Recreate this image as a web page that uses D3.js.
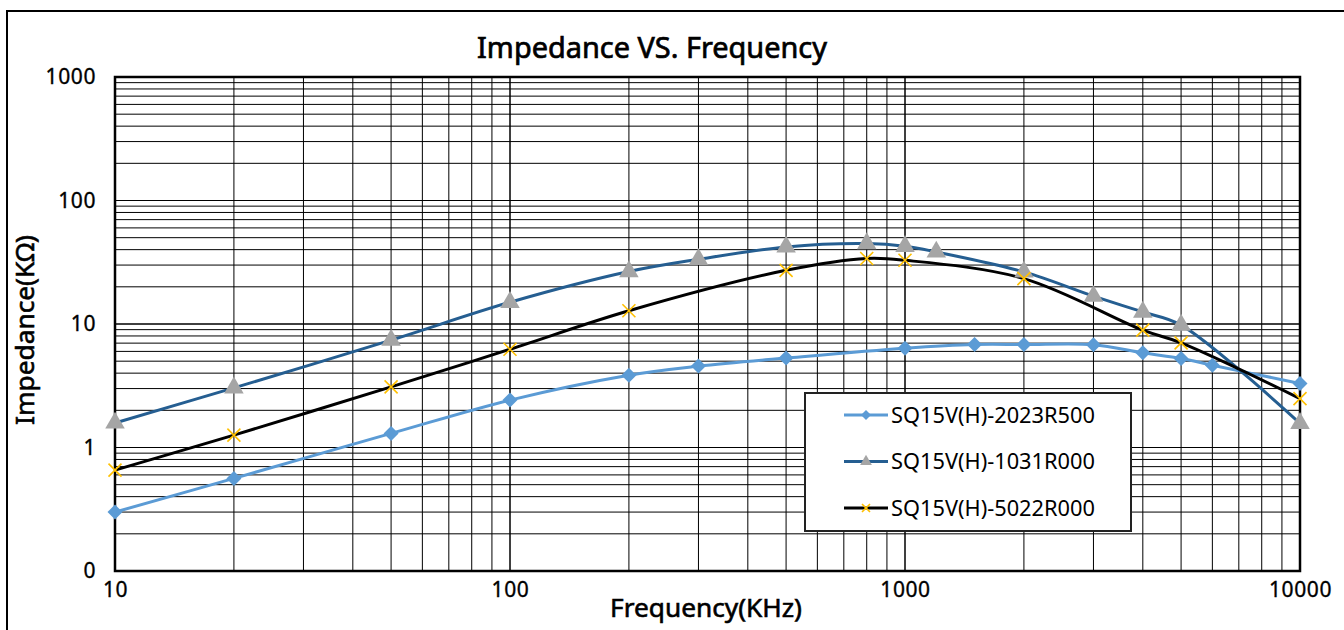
<!DOCTYPE html>
<html>
<head>
<meta charset="utf-8">
<script src="https://cdn.jsdelivr.net/npm/d3@7"></script>
<style>
  body { margin: 0; background: #fff; }
  text { font-family: "Noto Sans", sans-serif; fill: #000; }
</style>
</head>
<body>
<svg width="1344" height="630"></svg>
<script>
// data (frequency in KHz, impedance in KΩ)
const seriesNames = ["SQ15V(H)-2023R500", "SQ15V(H)-1031R000", "SQ15V(H)-5022R000"];

const freq1 = [10, 20, 50, 100, 200, 300, 500, 1000, 1500, 2000, 3000, 4000, 5000, 6000, 10000];
const imp1  = [0.30, 0.562, 1.30, 2.42, 3.85, 4.56, 5.3, 6.37, 6.82, 6.82, 6.8, 5.84, 5.26, 4.64, 3.3];

const freq2 = [10, 20, 50, 100, 200, 300, 500, 800, 1000, 1200, 2000, 3000, 4000, 5000, 10000];
const imp2  = [1.58, 3.04, 7.4, 15.0, 26.6, 33.4, 42.1, 44.8, 42.6, 38.3, 26.4, 16.8, 12.5, 9.8, 1.57];

const freq3 = [10, 20, 50, 100, 200, 500, 800, 1000, 2000, 4000, 5000, 10000];
const imp3  = [0.656, 1.26, 3.1, 6.24, 12.8, 27.2, 33.9, 32.8, 23.3, 8.91, 7.03, 2.49];

const xTicks = [10, 100, 1000, 10000];
const yTicks = [0.1, 1, 10, 100, 1000];
const yTickLabels = ["0", "1", "10", "100", "1000"];

const margin = { top: 77, right: 44, bottom: 59, left: 115 },
      width = 1344 - margin.left - margin.right,
      height = 630 - margin.top - margin.bottom;

const svg = d3.select("svg");

// outer chart border (runs off the right and bottom of the picture)
svg.append("rect")
  .attr("x", 7).attr("y", 11)
  .attr("width", 1400).attr("height", 700)
  .attr("fill", "#fff")
  .attr("stroke", "#000")
  .attr("stroke-width", 2);

const g = svg.append("g")
  .attr("transform", `translate(${margin.left},${margin.top})`);

const x = d3.scaleLog().domain([10, 10000]).range([0, width]);
const y = d3.scaleLog().domain([0.1, 1000]).range([height, 0]);

// grid: every log step in both directions
const xGrid = [];
for (let d = 10; d < 10000; d *= 10) for (let k = 1; k <= 10; k++) xGrid.push(d * k);
const yGrid = [];
for (let d = 0.1; d < 999; d *= 10) for (let k = 1; k <= 10; k++) yGrid.push(+(d * k).toPrecision(3));

g.append("g").selectAll("line")
  .data(xGrid)
  .enter().append("line")
  .attr("x1", d => x(d)).attr("x2", d => x(d))
  .attr("y1", 0).attr("y2", height)
  .attr("stroke", "#000").attr("stroke-width", 1);

g.append("g").selectAll("line")
  .data(yGrid)
  .enter().append("line")
  .attr("x1", 0).attr("x2", width)
  .attr("y1", d => y(d)).attr("y2", d => y(d))
  .attr("stroke", "#000").attr("stroke-width", 1);

g.append("rect")
  .attr("width", width).attr("height", height)
  .attr("fill", "none")
  .attr("stroke", "#000")
  .attr("stroke-width", 2.5);

// axes: labels only, the frame is drawn above
const xAxis = g.append("g")
  .attr("transform", `translate(0,${height})`)
  .call(d3.axisBottom(x).tickValues(xTicks).tickFormat(d3.format("d")).tickSize(0).tickPadding(11));
const yAxis = g.append("g")
  .call(d3.axisLeft(y).tickValues(yTicks).tickFormat((d, i) => yTickLabels[i]).tickSize(0).tickPadding(19));
[xAxis, yAxis].forEach(a => {
  a.select(".domain").remove();
  a.selectAll("text")
    .attr("font-size", 21).attr("font-family", "Noto Sans")
    .attr("letter-spacing", 0.6).attr("fill", "#000")
    .attr("stroke", "#000").attr("stroke-width", 0.35);
});

const series = [
  { name: seriesNames[0], freq: freq1, imp: imp1, line: "#5B9BD5", marker: "diamond", mcolor: "#5B9BD5" },
  { name: seriesNames[1], freq: freq2, imp: imp2, line: "#255E91", marker: "triangle", mcolor: "#A5A5A5" },
  { name: seriesNames[2], freq: freq3, imp: imp3, line: "#000000", marker: "x", mcolor: "#FFC000" }
];

const line = d3.line()
  .x(d => x(d[0]))
  .y(d => y(d[1]))
  .curve(d3.curveCatmullRom.alpha(0.5));

function drawMarker(sel, type, color, s) {
  if (type === "x") {
    sel.append("path")
      .attr("d", `M${-s},${-s}L${s},${s}M${-s},${s}L${s},${-s}`)
      .attr("stroke", color).attr("stroke-width", 1.6).attr("fill", "none");
  } else if (type === "diamond") {
    sel.append("path")
      .attr("d", `M0,${-s}L${s},0L0,${s}L${-s},0Z`)
      .attr("fill", color);
  } else {
    sel.append("path")
      .attr("d", d3.symbol().type(d3.symbolTriangle).size(s * s * 2.4))
      .attr("fill", color);
  }
}

series.forEach(s => {
  const pts = s.freq.map((f, i) => [f, s.imp[i]]);
  g.append("path")
    .datum(pts)
    .attr("fill", "none")
    .attr("stroke", s.line)
    .attr("stroke-width", 3)
    .attr("d", line);
  s.pts = pts;
});

const markerSize = { diamond: 7.5, triangle: 8.3, x: 6.5 };
series.forEach(s => {
  g.append("g").selectAll("g")
    .data(s.pts)
    .enter().append("g")
    .attr("transform", d => `translate(${x(d[0])},${y(d[1])})`)
    .each(function () { drawMarker(d3.select(this), s.marker, s.mcolor, markerSize[s.marker]); });
});

// legend
const legend = svg.append("g").attr("transform", "translate(805,393)");
legend.append("rect")
  .attr("width", 326).attr("height", 138)
  .attr("fill", "#fff")
  .attr("stroke", "#222")
  .attr("stroke-width", 2);

function fit(t, w) {
  const len = t.node().getComputedTextLength();
  const fs = parseFloat(t.attr("font-size"));
  t.attr("font-size", (fs * w / len).toFixed(2));
  return t;
}

series.forEach((s, i) => {
  const row = legend.append("g").attr("transform", `translate(39,${22 + i * 46.5})`);
  row.append("line")
    .attr("x1", 0).attr("x2", 44)
    .attr("stroke", s.line).attr("stroke-width", 3);
  const m = row.append("g").attr("transform", "translate(22,0)");
  drawMarker(m, s.marker, s.mcolor, s.marker === "x" ? 4 : 5);
  const t = row.append("text")
    .attr("x", 47).attr("dy", "0.36em")
    .attr("font-size", 18)
    .text(s.name);
  fit(t, 204);
});

// titles: regular face with a thin outline, to get a medium weight
fit(svg.append("text")
  .attr("x", 652).attr("y", 58)
  .attr("text-anchor", "middle")
  .attr("font-size", 24)
  .text("Impedance VS. Frequency"), 350)
  .attr("stroke", "#000").attr("stroke-width", 0.7);

fit(svg.append("text")
  .attr("x", 706).attr("y", 617)
  .attr("text-anchor", "middle")
  .attr("font-size", 20)
  .text("Frequency(KHz)"), 192)
  .attr("stroke", "#000").attr("stroke-width", 0.6);

fit(svg.append("text")
  .attr("transform", "translate(34,330) rotate(-90)")
  .attr("text-anchor", "middle")
  .attr("font-size", 20)
  .text("Impedance(KΩ)"), 190)
  .attr("stroke", "#000").attr("stroke-width", 0.6);
</script>
</body>
</html>
